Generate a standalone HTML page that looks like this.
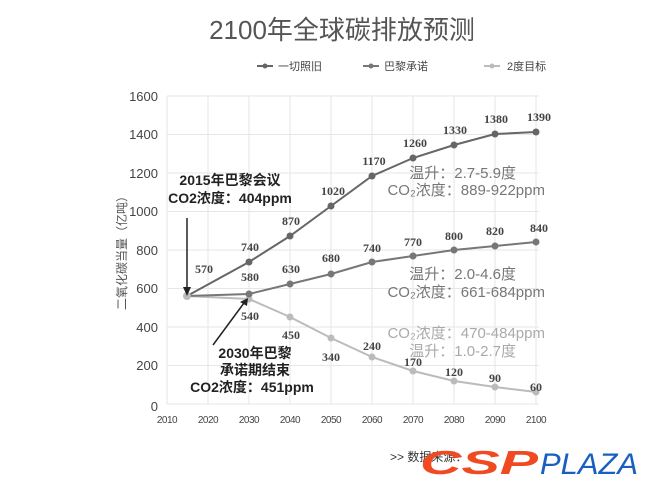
<!DOCTYPE html>
<html><head><meta charset="utf-8"><style>
html,body{margin:0;padding:0;background:#fff;}
svg{display:block;font-family:"Liberation Sans","Noto Sans CJK SC",sans-serif;}
.s{font-family:"Liberation Serif","Noto Serif CJK SC",serif;font-weight:bold;font-size:12px;fill:#444;}
</style></head><body>
<svg width="650" height="488" viewBox="0 0 650 488">
<text x="342" y="39" font-size="26" fill="#555" text-anchor="middle">2100年全球碳排放预测</text>
<g font-size="11" fill="#444">
<line x1="257" y1="66" x2="273" y2="66" stroke="#666" stroke-width="2"/><circle cx="265" cy="66" r="2.5" fill="#666"/>
<text x="278" y="70">一切照旧</text>
<line x1="363" y1="66" x2="379" y2="66" stroke="#777" stroke-width="2"/><circle cx="371" cy="66" r="2.5" fill="#777"/>
<text x="384" y="70">巴黎承诺</text>
<line x1="484" y1="66" x2="500" y2="66" stroke="#bbb" stroke-width="2"/><circle cx="492" cy="66" r="2.5" fill="#bbb"/>
<text x="507" y="70">2度目标</text>
</g>
<g stroke="#e6e6e6" stroke-width="1">
<line x1="167" y1="96" x2="539" y2="96"/><line x1="167" y1="134.5" x2="539" y2="134.5"/><line x1="167" y1="173" x2="539" y2="173"/><line x1="167" y1="211.5" x2="539" y2="211.5"/><line x1="167" y1="250" x2="539" y2="250"/><line x1="167" y1="288.5" x2="539" y2="288.5"/><line x1="167" y1="327" x2="539" y2="327"/><line x1="167" y1="365.5" x2="539" y2="365.5"/><line x1="167" y1="404" x2="539" y2="404"/>
<line x1="167" y1="96" x2="167" y2="404"/><line x1="208" y1="96" x2="208" y2="404"/><line x1="249" y1="96" x2="249" y2="404"/><line x1="290" y1="96" x2="290" y2="404"/><line x1="331" y1="96" x2="331" y2="404"/><line x1="372" y1="96" x2="372" y2="404"/><line x1="413" y1="96" x2="413" y2="404"/><line x1="454" y1="96" x2="454" y2="404"/><line x1="495" y1="96" x2="495" y2="404"/><line x1="536" y1="96" x2="536" y2="404"/>
</g>
<g font-size="13" fill="#444" text-anchor="end">
<text x="158" y="101">1600</text><text x="158" y="139">1400</text><text x="158" y="178">1200</text><text x="158" y="216">1000</text><text x="158" y="255">800</text><text x="158" y="293">600</text><text x="158" y="332">400</text><text x="158" y="370">200</text><text x="158" y="411">0</text>
</g>
<g font-size="10" fill="#444" text-anchor="middle" letter-spacing="-0.5">
<text x="167" y="423">2010</text><text x="208" y="423">2020</text><text x="249" y="423">2030</text><text x="290" y="423">2040</text><text x="331" y="423">2050</text><text x="372" y="423">2060</text><text x="413" y="423">2070</text><text x="454" y="423">2080</text><text x="495" y="423">2090</text><text x="536" y="423">2100</text>
</g>
<text transform="translate(126,250) rotate(-90)" font-size="12" fill="#555" text-anchor="middle">二氧化碳当量（亿吨）</text>
<polyline fill="none" stroke="#bbb" stroke-width="2" points="187,296 249,299 290,317 331,338 372,357 413,371 454,381 495,387 536,392"/>
<g fill="#bbb"><circle cx="249" cy="299" r="3.5"/><circle cx="290" cy="317" r="3.5"/><circle cx="331" cy="338" r="3.5"/><circle cx="372" cy="357" r="3.5"/><circle cx="413" cy="371" r="3.5"/><circle cx="454" cy="381" r="3.5"/><circle cx="495" cy="387" r="3.5"/><circle cx="536" cy="392" r="3.5"/></g>
<polyline fill="none" stroke="#777" stroke-width="2" points="187,296 249,294 290,284 331,274 372,262 413,256 454,250 495,246 536,242"/>
<g fill="#777"><circle cx="249" cy="294" r="3.5"/><circle cx="290" cy="284" r="3.5"/><circle cx="331" cy="274" r="3.5"/><circle cx="372" cy="262" r="3.5"/><circle cx="413" cy="256" r="3.5"/><circle cx="454" cy="250" r="3.5"/><circle cx="495" cy="246" r="3.5"/><circle cx="536" cy="242" r="3.5"/></g>
<polyline fill="none" stroke="#666" stroke-width="2" points="187,296 249,262 290,236 331,206 372,176 413,158 454,145 495,134 536,132"/>
<g fill="#666"><circle cx="249" cy="262" r="3.5"/><circle cx="290" cy="236" r="3.5"/><circle cx="331" cy="206" r="3.5"/><circle cx="372" cy="176" r="3.5"/><circle cx="413" cy="158" r="3.5"/><circle cx="454" cy="145" r="3.5"/><circle cx="495" cy="134" r="3.5"/><circle cx="536" cy="132" r="3.5"/></g>
<circle cx="187" cy="296" r="4" fill="#bbb"/>
<g class="s" text-anchor="middle">
<text x="204" y="273">570</text>
<text x="250" y="251">740</text><text x="291" y="225">870</text><text x="333" y="195">1020</text><text x="374" y="165">1170</text><text x="415" y="147">1260</text><text x="455" y="134">1330</text><text x="496" y="123">1380</text><text x="539" y="121">1390</text>
<text x="250" y="281">580</text><text x="291" y="273">630</text><text x="331" y="262">680</text><text x="372" y="252">740</text><text x="413" y="246">770</text><text x="454" y="240">800</text><text x="495" y="235">820</text><text x="539" y="232">840</text>
<text x="250" y="320">540</text><text x="291" y="339">450</text><text x="331" y="361">340</text><text x="372" y="350">240</text><text x="413" y="366">170</text><text x="454" y="376">120</text><text x="495" y="382">90</text><text x="536" y="391">60</text>
</g>
<g font-size="14" font-weight="bold" fill="#222" text-anchor="middle">
<text x="230" y="185">2015年巴黎会议</text>
<text x="230" y="203">CO2浓度：404ppm</text>
<text x="255" y="358">2030年巴黎</text>
<text x="255" y="375">承诺期结束</text>
<text x="252" y="392">CO2浓度：451ppm</text>
</g>
<line x1="187" y1="218" x2="187" y2="289" stroke="#222" stroke-width="1.5"/>
<polygon points="183,287 191,287 187,296" fill="#222"/>
<line x1="213" y1="345" x2="244" y2="303" stroke="#222" stroke-width="1.5"/>
<polygon points="240,302 247,306 248,298" fill="#222"/>
<g font-size="15" fill="#777" text-anchor="end">
<text x="516" y="178">温升：2.7-5.9度</text>
<text x="545" y="195">CO₂浓度：889-922ppm</text>
<text x="516" y="279">温升：2.0-4.6度</text>
<text x="545" y="297">CO₂浓度：661-684ppm</text>
</g>
<g font-size="15" fill="#aaa" text-anchor="end">
<text x="545" y="338">CO₂浓度：470-484ppm</text>
<text x="516" y="356">温升：1.0-2.7度</text>
</g>
<text x="390" y="461" font-size="12" fill="#333">&gt;&gt;  数据来源：</text>
<text x="420" y="474" font-size="33" font-weight="bold" font-style="italic" fill="#f04a23" textLength="118" lengthAdjust="spacingAndGlyphs">CSP</text>
<text x="540" y="474" font-size="30" font-style="italic" fill="#1a5fc0" textLength="98" lengthAdjust="spacingAndGlyphs">PLAZA</text>
</svg>
</body></html>
